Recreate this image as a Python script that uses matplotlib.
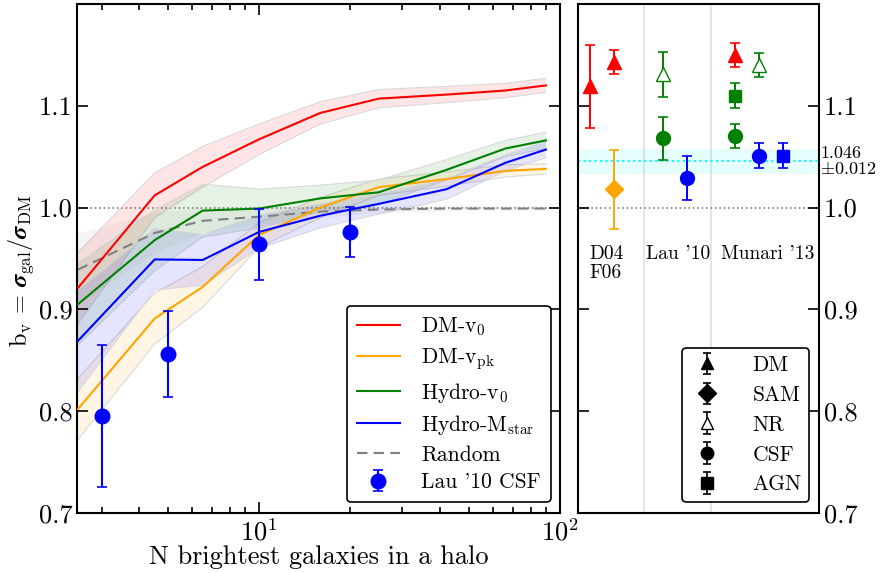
import numpy as np
import matplotlib
matplotlib.use("Agg")
import matplotlib.pyplot as plt

plt.rcParams.update({
    "font.family": "serif",
    "font.serif": ["cmr10", "DejaVu Serif"],
    "mathtext.fontset": "cm",
    "axes.formatter.use_mathtext": True,
    "axes.unicode_minus": False,
})

# ---------------- data: left panel ----------------
n_gal = [2.5, 4.5, 6.5, 10, 16, 25, 42, 66, 90]
dm_v0 = [0.921, 1.012, 1.040, 1.067, 1.093, 1.107, 1.111, 1.115, 1.120]
dm_v0_err = [0.035, 0.022, 0.020, 0.015, 0.011, 0.009, 0.008, 0.007, 0.007]
dm_vpk = [0.802, 0.891, 0.922, 0.973, 1.000, 1.020, 1.028, 1.036, 1.038]
dm_vpk_err = [0.030, 0.025, 0.020, 0.012, 0.010, 0.008, 0.007, 0.006, 0.005]
hydro_v0 = [0.905, 0.968, 0.997, 0.999, 1.009, 1.015, 1.037, 1.058, 1.066]
hydro_v0_err = [0.040, 0.030, 0.026, 0.019, 0.013, 0.012, 0.010, 0.008, 0.008]
hydro_mstar = [0.869, 0.949, 0.9485, 0.976, 0.992, 1.0036, 1.018, 1.044, 1.057]
hydro_mstar_err = [0.050, 0.030, 0.025, 0.016, 0.012, 0.010, 0.010, 0.008, 0.008]
random_v = [0.939, 0.975, 0.987, 0.991, 0.996, 0.998, 0.999, 0.999, 0.999]
random_err = [0.035, 0.02, 0.012, 0.008, 0.006, 0.004, 0.003, 0.002, 0.002]

lau_n = [3, 5, 10, 20]
lau_bv = [0.795, 0.856, 0.964, 0.976]
lau_err = [0.070, 0.042, 0.035, 0.025]

# ---------------- data: right panel ----------------
r_pos = [0.5, 1.5, 1.5, 3.5, 3.5, 4.5, 6.5, 6.5, 6.5, 7.5, 7.5, 8.5]
r_val = [1.119, 1.143, 1.018, 1.131, 1.068, 1.029, 1.150, 1.110, 1.0705, 1.140, 1.051, 1.051]
r_err = [0.041, 0.012, 0.039, 0.022, 0.021, 0.022, 0.012, 0.012, 0.012, 0.012, 0.012, 0.012]
r_color = ["red", "red", "orange", "green", "green", "blue", "red", "green", "green", "green", "blue", "blue"]
r_marker = ["^", "^", "D", "^", "o", "o", "^", "s", "o", "^", "o", "s"]
r_open = [False, False, False, True, False, False, False, False, False, True, False, False]
group_labels = ["D04\nF06", "Lau '10", "Munari '13"]
legend2_labels = ["DM", "SAM", "NR", "CSF", "AGN"]
legend2_markers = ["^", "D", "^", "o", "s"]
legend2_open = [False, False, True, False, False]
bv_mean = 1.046
bv_sig = 0.012

fig = plt.figure(figsize=(8.8, 5.73), dpi=100)
ax = fig.add_axes([0.088, 0.105, 0.548, 0.888])
ax2 = fig.add_axes([0.657, 0.105, 0.274, 0.888])

lw_sp = 1.5
tick_fs = 19

# ---- left panel ----
series = [
    (dm_v0, dm_v0_err, "red", r"DM-$\mathrm{v_0}$"),
    (dm_vpk, dm_vpk_err, "orange", r"DM-$\mathrm{v_{pk}}$"),
    (hydro_v0, hydro_v0_err, "green", r"Hydro-$\mathrm{v_0}$"),
    (hydro_mstar, hydro_mstar_err, "blue", r"Hydro-$\mathrm{M_{star}}$"),
]
x = np.array(n_gal)
ax.axhline(1.0, color="gray", ls=":", lw=1.2, zorder=1)
for vals, errs, c, lab in series:
    v = np.array(vals); e = np.array(errs)
    ax.fill_between(x, v - e, v + e, facecolor=c, alpha=0.1, edgecolor="none", zorder=1)
    ax.plot(x, v - e, color="0.85", lw=0.8, zorder=1)
    ax.plot(x, v + e, color="0.85", lw=0.8, zorder=1)
    ax.plot(x, v, color=c, lw=1.5, label=lab, zorder=3)
rv = np.array(random_v); re_ = np.array(random_err)
ax.fill_between(x, rv - re_, rv + re_, facecolor="gray", alpha=0.08, edgecolor="none", zorder=1)
ax.plot(x, rv, color="gray", ls="--", lw=1.5, dashes=(5, 3), label="Random", zorder=2)
ax.errorbar(lau_n, lau_bv, yerr=lau_err, fmt="o", color="blue", ms=10.5, elinewidth=1.5,
            capsize=3.5, capthick=1.2, label="Lau '10 CSF", zorder=4)

ax.set_xscale("log")
ax.set_xlim(2.49, 100)
ax.set_ylim(0.7, 1.2)
ax.set_yticks([0.7, 0.8, 0.9, 1.0, 1.1])
ax.set_yticklabels(["0.7", "0.8", "0.9", "1.0", "1.1"])
ax.set_xticks([10, 100])
ax.set_xticklabels([r"$10^1$", r"$10^2$"])
ax.tick_params(which="both", direction="in", top=True, right=True, labelsize=tick_fs, width=1.2)
ax.tick_params(which="major", length=8)
ax.tick_params(which="minor", length=4)
ax.tick_params(axis="x", pad=4)
for s in ax.spines.values():
    s.set_linewidth(lw_sp)
ax.set_xlabel("N brightest galaxies in a halo", fontsize=19, labelpad=0)
ax.set_ylabel(r"$\mathrm{b_v}$ = $\boldsymbol{\sigma}_{\rm gal}/\boldsymbol{\sigma}_{\rm DM}$", fontsize=17.5)
ax.yaxis.set_label_coords(-0.085, 0.475)

leg = ax.legend(loc="lower right", fontsize=15.5, frameon=True, fancybox=True, framealpha=1,
                edgecolor="black", handlelength=2.0, labelspacing=0.38, borderpad=0.45,
                handletextpad=1.0, borderaxespad=0.2, bbox_to_anchor=(0.99, 0.013))
leg.get_frame().set_linewidth(1.2)

# ---- right panel ----
ax2.set_xlim(0, 10)
ax2.set_ylim(0.7, 1.2)
ax2.axvline(2.75, color="0.88", lw=1.2, zorder=0)
ax2.axvline(5.5, color="0.88", lw=1.2, zorder=0)
ax2.axhline(1.0, color="gray", ls=":", lw=1.2, zorder=1)
ax2.axhspan(bv_mean - bv_sig, bv_mean + bv_sig, facecolor="cyan", alpha=0.1, edgecolor="0.8", lw=1, zorder=1)
ax2.axhline(bv_mean, color="cyan", ls=":", lw=1.5, zorder=2)

for p, v, e, c, m, op in zip(r_pos, r_val, r_err, r_color, r_marker, r_open):
    ms = 10 if m == "o" else (9 if m in ("D", "s") else 10.5)
    ax2.errorbar([p], [v], yerr=[e], fmt=m, color=c, mfc=("white" if op else c), mec=c,
                 ms=ms, elinewidth=1.4, capsize=3.5, capthick=1.2, zorder=3)

ax2.text(0.45, 0.963, group_labels[0], fontsize=14, ha="left", va="top", linespacing=1.1)
ax2.text(4.15, 0.963, group_labels[1], fontsize=14, ha="center", va="top")
ax2.text(7.85, 0.963, group_labels[2], fontsize=14, ha="center", va="top")
ax2.text(1.005, bv_mean - 0.001, "1.046\n" + r"$\pm$0.012", transform=ax2.get_yaxis_transform(),
         fontsize=13, ha="left", va="center", linespacing=1.0)

for lab, m, op in zip(legend2_labels, legend2_markers, legend2_open):
    ax2.errorbar([np.nan], [np.nan], yerr=[0.01], fmt=m, color="k", mfc=("white" if op else "k"),
                 mec="k", ms=9, elinewidth=1.2, capsize=3, capthick=1.2, label=lab)
leg2 = ax2.legend(loc="lower right", fontsize=15.5, frameon=True, fancybox=True, framealpha=1,
                  edgecolor="black", handlelength=1.6, labelspacing=0.48, borderpad=0.35,
                  handletextpad=1.3, borderaxespad=0.2, bbox_to_anchor=(0.975, 0.013))
leg2.get_frame().set_linewidth(1.2)

ax2.set_xticks([])
ax2.set_yticks([0.7, 0.8, 0.9, 1.0, 1.1])
ax2.set_yticklabels(["0.7", "0.8", "0.9", "1.0", "1.1"])
ax2.yaxis.tick_right()
ax2.tick_params(axis="y", which="both", direction="in", left=True, right=True, labelleft=False,
                labelright=True, labelsize=tick_fs, length=8, width=1.2)
for s in ax2.spines.values():
    s.set_linewidth(lw_sp)

fig.savefig("out.png", dpi=100)
